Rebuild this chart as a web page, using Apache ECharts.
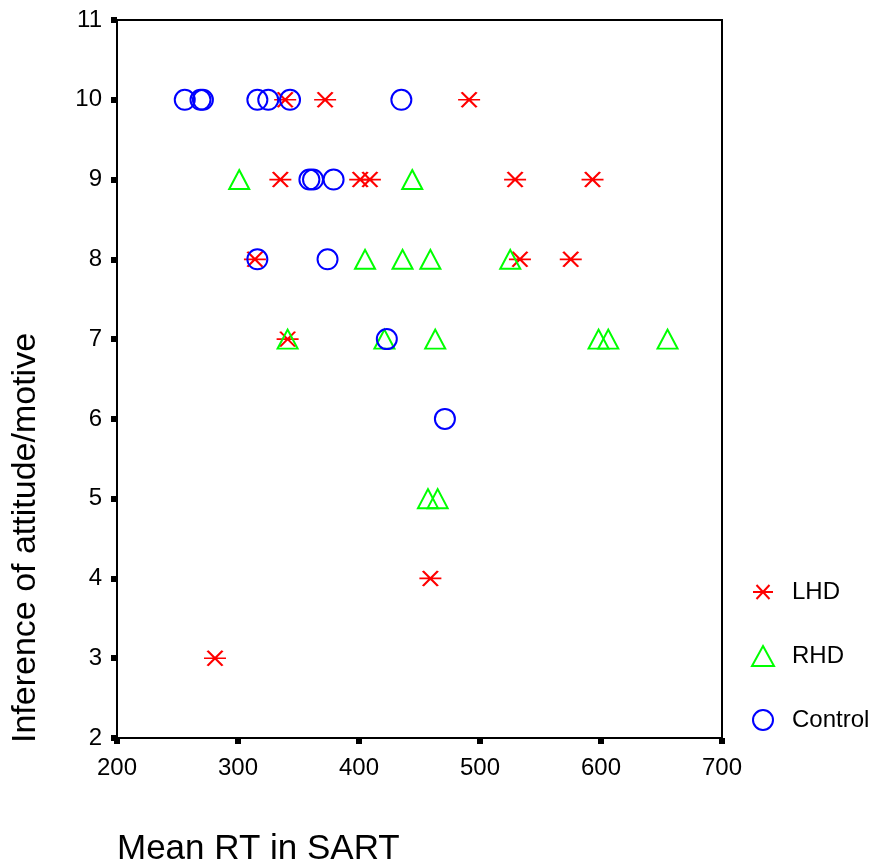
<!DOCTYPE html>
<html>
<head>
<meta charset="utf-8">
<script src="https://cdn.jsdelivr.net/npm/echarts@6/dist/echarts.min.js"></script>
<style>
html,body{margin:0;padding:0;background:#fff;}
#chart{width:877px;height:863px;}
</style>
</head>
<body>
<div id="chart"></div>
<script>
// Data: [Mean RT in SART, Inference score]
var lhdRT    = [339, 372, 491, 335, 401, 409, 529, 593, 314, 533, 575, 341, 459, 281];
var lhdScore = [10, 10, 10, 9, 9, 9, 9, 9, 8, 8, 8, 7, 4, 3];

var rhdRT    = [301, 444, 405, 436, 459, 525, 341, 421, 463, 598, 606, 655, 457, 465];
var rhdScore = [9, 9, 8, 8, 8, 8, 7, 7, 7, 7, 7, 7, 5, 5];

var ctlRT    = [256, 269, 271, 316, 325, 343, 435, 359, 362, 379, 316, 374, 423, 471];
var ctlScore = [10, 10, 10, 10, 10, 10, 10, 9, 9, 9, 8, 8, 7, 6];

var groupNames = ['LHD', 'RHD', 'Control'];
var xTicks = [200, 300, 400, 500, 600, 700];
var yTicks = [2, 3, 4, 5, 6, 7, 8, 9, 10, 11];
var xTitle = 'Mean RT in SART';
var yTitle = 'Inference of attitude/motive';

function pairs(xs, ys) { return xs.map(function (x, i) { return [x, ys[i]]; }); }

var FONT = '"Liberation Sans", Arial, sans-serif';
var asteriskPath = 'path://M0 7.5 L22 7.5 M3.5 0 L18.5 15 M18.5 0 L3.5 15';
var asteriskLegend = 'path://M10 0 M10 20 M0 10 L20 10 M3.5 3 L16.5 17 M16.5 3 L3.5 17';
var trianglePath = 'path://M11 0 L22 20 L0 20 Z';

var chart = echarts.init(document.getElementById('chart'), null, {renderer: 'canvas'});
chart.setOption({
  animation: false,
  backgroundColor: '#fff',
  textStyle: {fontFamily: FONT},
  grid: {left: 117, right: 155, top: 20, bottom: 125, show: true, borderColor: '#000', borderWidth: 2, containLabel: false},
  xAxis: {
    type: 'value', min: xTicks[0], max: xTicks[xTicks.length - 1], interval: 100,
    axisLine: {show: true, lineStyle: {color: '#000', width: 2}},
    axisTick: {show: true, length: 6, lineStyle: {color: '#000', width: 6}},
    axisLabel: {color: '#000', fontSize: 24, fontFamily: FONT, margin: 18},
    splitLine: {show: false}
  },
  yAxis: {
    type: 'value', min: yTicks[0], max: yTicks[yTicks.length - 1], interval: 1,
    axisLine: {show: true, lineStyle: {color: '#000', width: 2}},
    axisTick: {show: true, length: 6, lineStyle: {color: '#000', width: 6}},
    axisLabel: {color: '#000', fontSize: 24, fontFamily: FONT, margin: 15},
    splitLine: {show: false}
  },
  legend: {
    orient: 'vertical', left: 746, top: 575,
    itemWidth: 48, itemHeight: 20, itemGap: 40,
    symbolKeepAspect: true,
    textStyle: {color: '#000', fontSize: 24, fontFamily: FONT},
    data: [
      {name: groupNames[0], icon: asteriskLegend, itemStyle: {color: 'rgba(0,0,0,0)', borderColor: '#ff0000', borderWidth: 2}},
      {name: groupNames[1], icon: trianglePath, itemStyle: {color: 'rgba(0,0,0,0)', borderColor: '#00ff00', borderWidth: 2}},
      {name: groupNames[2], icon: 'circle', itemStyle: {color: 'rgba(0,0,0,0)', borderColor: '#0000ff', borderWidth: 2}}
    ]
  },
  graphic: [
    {type: 'text', left: 117, top: 832, style: {text: xTitle, font: '35px ' + FONT, fill: '#000'}},
    {type: 'text', x: 26, y: 538, rotation: Math.PI / 2,
     style: {text: yTitle, font: '34px ' + FONT, fill: '#000', align: 'center', verticalAlign: 'middle'}}
  ],
  series: [
    {name: groupNames[0], type: 'scatter', data: pairs(lhdRT, lhdScore),
     symbol: asteriskPath, symbolSize: [22, 15],
     itemStyle: {color: 'rgba(0,0,0,0)', borderColor: '#ff0000', borderWidth: 2, opacity: 1}},
    {name: groupNames[1], type: 'scatter', data: pairs(rhdRT, rhdScore),
     symbol: trianglePath, symbolSize: [20, 19],
     itemStyle: {color: 'rgba(0,0,0,0)', borderColor: '#00ff00', borderWidth: 2, opacity: 1}},
    {name: groupNames[2], type: 'scatter', data: pairs(ctlRT, ctlScore),
     symbol: 'circle', symbolSize: 20,
     itemStyle: {color: 'rgba(0,0,0,0)', borderColor: '#0000ff', borderWidth: 2, opacity: 1}}
  ]
});
</script>
</body>
</html>
